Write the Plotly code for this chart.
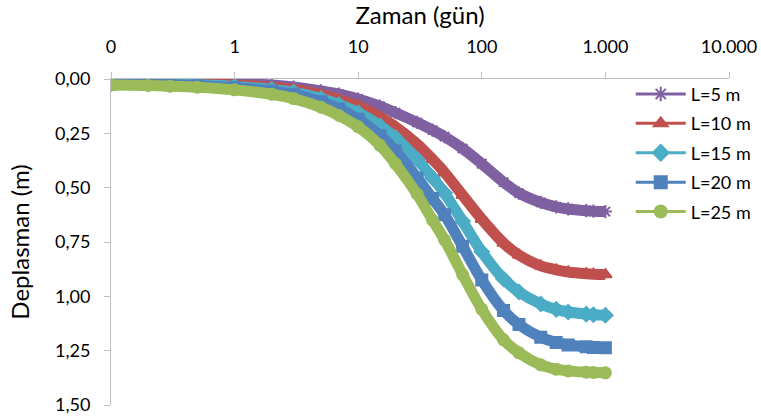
import plotly.graph_objects as go

# Time (days)
time_days = [0.1, 0.2, 0.3, 0.5, 1, 2, 3, 5, 7, 10, 15, 20, 30, 40, 50, 70, 100,
             150, 200, 300, 400, 500, 700, 800, 1000]

# Displacement (m) per pile length
L5 = [0.012, 0.013, 0.014, 0.016, 0.019, 0.028, 0.037, 0.055, 0.070, 0.092, 0.125, 0.155, 0.200,
      0.235, 0.265, 0.320, 0.390, 0.475, 0.525, 0.568, 0.588, 0.598, 0.606, 0.608, 0.610]
L10 = [0.016, 0.018, 0.019, 0.022, 0.027, 0.038, 0.048, 0.072, 0.095, 0.125, 0.175, 0.220, 0.300,
       0.370, 0.430, 0.535, 0.645, 0.755, 0.810, 0.860, 0.878, 0.888, 0.896, 0.898, 0.900]
L15 = [0.020, 0.022, 0.024, 0.027, 0.034, 0.048, 0.060, 0.090, 0.118, 0.155, 0.215, 0.270, 0.370,
       0.455, 0.525, 0.655, 0.795, 0.920, 0.980, 1.035, 1.060, 1.072, 1.082, 1.085, 1.087]
L20 = [0.023, 0.025, 0.027, 0.031, 0.040, 0.056, 0.070, 0.105, 0.138, 0.185, 0.260, 0.330, 0.455,
       0.550, 0.625, 0.770, 0.925, 1.065, 1.130, 1.188, 1.212, 1.224, 1.232, 1.235, 1.237]
L25 = [0.028, 0.030, 0.033, 0.038, 0.050, 0.070, 0.090, 0.130, 0.168, 0.220, 0.305, 0.390, 0.530,
       0.650, 0.740, 0.900, 1.060, 1.200, 1.260, 1.315, 1.335, 1.343, 1.349, 1.350, 1.352]

series_names = ["L=5 m", "L=10 m", "L=15 m", "L=20 m", "L=25 m"]
series_values = [L5, L10, L15, L20, L25]
colors = ["#7F60A1", "#C0504D", "#4BACC6", "#4F81BD", "#9BBB59"]
symbols = ["asterisk-open", "triangle-up", "diamond", "square", "circle"]

x_tickvals = [0.1, 1, 10, 100, 1000, 10000]
x_ticktext = ["0", "1", "10", "100", "1.000", "10.000"]
y_tickvals = [0, 0.25, 0.5, 0.75, 1.0, 1.25, 1.5]

FONT = "Lato"

fig = go.Figure()
for name, vals, c, s in zip(series_names, series_values, colors, symbols):
    fig.add_trace(go.Scatter(
        x=time_days, y=vals, mode="lines+markers", name=name,
        line=dict(color=c, width=11, shape="spline", smoothing=0.8),
        marker=dict(color=c, symbol=s, size=11, line=dict(color=c, width=2)),
        showlegend=False,
    ))
for name, c, s in zip(series_names, colors, symbols):
    fig.add_trace(go.Scatter(
        x=[None], y=[None], mode="lines+markers", name=name,
        line=dict(color=c, width=3),
        marker=dict(color=c, symbol=s, size=12, line=dict(color=c, width=2)),
        legendgroup=name,
    ))

fig.update_layout(
    width=761, height=419,
    margin=dict(l=111, r=32, t=79, b=14, autoexpand=False),
    paper_bgcolor="white", plot_bgcolor="white",
    separators=",.",
    font=dict(family=FONT, size=18, color="#000000"),
    showlegend=True,
    legend=dict(
        x=0.841, y=1.01, xanchor="left", yanchor="top",
        font=dict(family=FONT, size=18, color="#000000"),
        itemwidth=50, tracegroupgap=3, bgcolor="rgba(0,0,0,0)",
    ),
    xaxis=dict(
        type="log", side="top", range=[-1, 4], automargin=False,
        tickvals=x_tickvals, ticktext=x_ticktext,
        showgrid=False, zeroline=False,
        showline=True, linecolor="#BFBFBF", linewidth=1,
        ticks="outside", ticklen=6, tickcolor="#BFBFBF",
        ticklabelstandoff=12,
        tickfont=dict(family=FONT, size=18),
        title=dict(text="Zaman (gün)", font=dict(family=FONT, size=24), standoff=10),
    ),
    yaxis=dict(
        range=[1.5, 0], tickvals=y_tickvals, tickformat=".2f", automargin=False,
        showgrid=False, zeroline=False,
        showline=True, linecolor="#BFBFBF", linewidth=1,
        ticks="outside", ticklen=6, tickcolor="#BFBFBF",
        ticklabelstandoff=10,
        tickfont=dict(family=FONT, size=18),
        title=dict(text="Deplasman (m)", font=dict(family=FONT, size=24), standoff=18),
    ),
)

fig.write_html("out.html")
